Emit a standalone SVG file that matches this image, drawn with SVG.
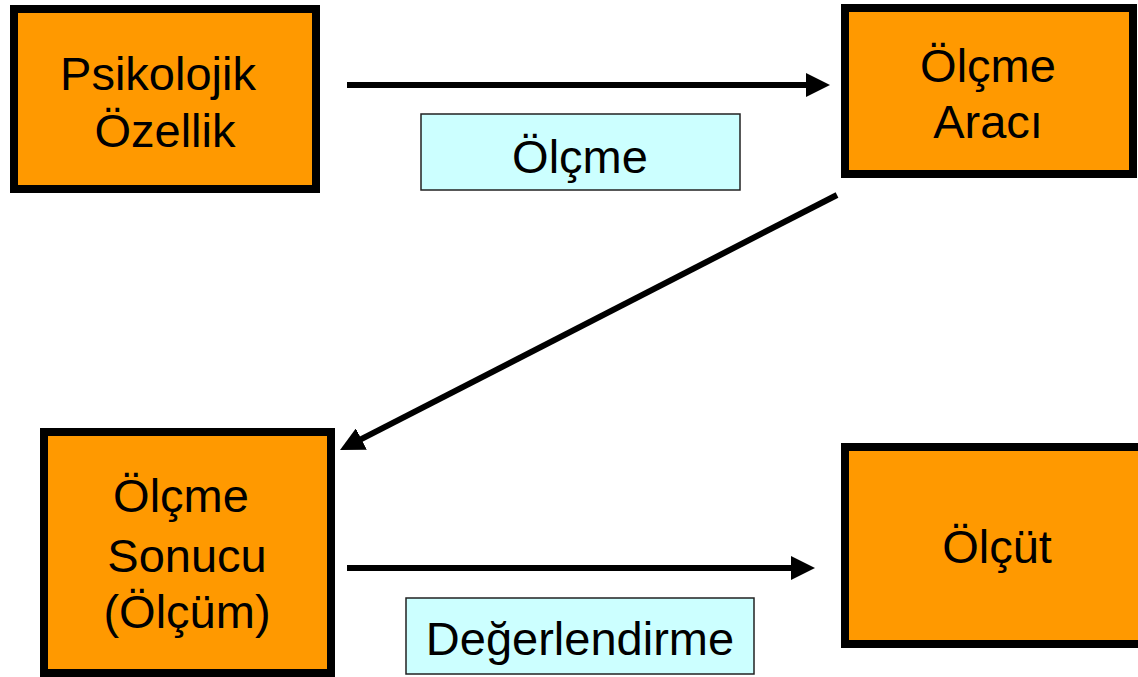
<svg xmlns="http://www.w3.org/2000/svg" width="1138" height="677" viewBox="0 0 1138 677">
<style>
.node{fill:#FF9900;stroke:#000;stroke-width:8}
.lbl{fill:#CCFFFF;stroke:#222;stroke-width:1.5}
text{font-family:"Liberation Sans",Arial,sans-serif;font-size:47px;fill:#000;text-anchor:middle}
.conn{stroke:#000;stroke-width:6;fill:none}
</style>
<defs>
<marker id="ah" markerUnits="userSpaceOnUse" markerWidth="24" markerHeight="24" refX="4" refY="12" orient="auto">
<path d="M0,0 L24,12 L0,24 z" fill="#000"/>
</marker>
</defs>
<rect width="1138" height="677" fill="#fff"/>
<g id="connectors">
<line class="conn" x1="347" y1="85" x2="810" y2="85" marker-end="url(#ah)"/>
<line class="conn" x1="837" y1="195" x2="357.8" y2="440.9" marker-end="url(#ah)"/>
<line class="conn" x1="347" y1="568" x2="795" y2="568" marker-end="url(#ah)"/>
</g>
<g id="node-psikolojik">
<rect class="node" x="14" y="9" width="302" height="180"/>
<text x="158" y="90">Psikolojik</text>
<text x="165" y="147">Özellik</text>
</g>
<g id="node-olcme-araci">
<rect class="node" x="845" y="8" width="288" height="166"/>
<text x="988" y="82">Ölçme</text>
<text x="988" y="138">Aracı</text>
</g>
<g id="node-olcme-sonucu">
<rect class="node" x="44" y="432" width="287" height="241"/>
<text x="181" y="512">Ölçme</text>
<text x="187" y="572">Sonucu</text>
<text x="187" y="628">(Ölçüm)</text>
</g>
<g id="node-olcut">
<rect class="node" x="845" y="447" width="300" height="197"/>
<text x="997" y="563">Ölçüt</text>
</g>
<g id="label-olcme">
<rect class="lbl" x="421" y="114" width="319" height="76"/>
<text x="580" y="173">Ölçme</text>
</g>
<g id="label-degerlendirme">
<rect class="lbl" x="406" y="598" width="348" height="76"/>
<text x="580" y="655">Değerlendirme</text>
</g>
</svg>
